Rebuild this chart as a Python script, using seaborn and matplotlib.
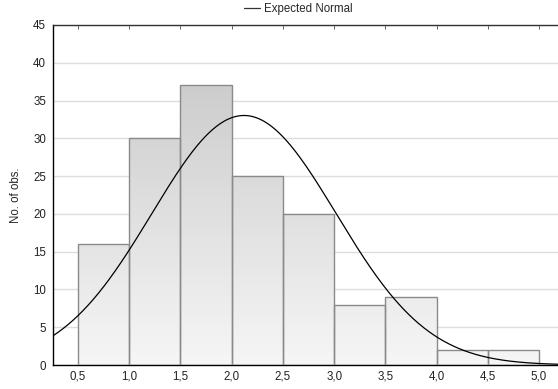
import numpy as np
import pandas as pd
import matplotlib
matplotlib.use("Agg")
import matplotlib.pyplot as plt
import seaborn as sns
from matplotlib.colors import LinearSegmentedColormap

# Data
bin_left = [0.5, 1.0, 1.5, 2.0, 2.5, 3.0, 3.5, 4.0, 4.5]
counts = [16, 30, 37, 25, 20, 8, 9, 2, 2]
bin_width = 0.5
fit_mean = 2.12
fit_sd = 0.90
x_ticks = [0.5, 1.0, 1.5, 2.0, 2.5, 3.0, 3.5, 4.0, 4.5, 5.0]
y_ticks = [0, 5, 10, 15, 20, 25, 30, 35, 40, 45]

sns.set_style("white")
plt.rcParams['font.family'] = ['Liberation Sans', 'DejaVu Sans']
FS = 8.3

fig = plt.figure(figsize=(5.58, 3.89), dpi=100)
ax = fig.add_axes([53/558, 1 - 365/389, (558 - 53)/558, (365 - 25)/389])

df = pd.DataFrame({"x": [b + bin_width / 2 for b in bin_left], "n": counts})
sns.histplot(data=df, x="x", weights="n", binwidth=bin_width, binrange=(0.5, 5.0),
             ax=ax, stat="count", fill=True, color="white", alpha=0.0,
             edgecolor="#8a8a8a", linewidth=1.0, zorder=3)

xmin, xmax = 0.256, 5.185
ax.set_xlim(xmin, xmax)
ax.set_ylim(0, 45)

cmap = LinearSegmentedColormap.from_list("g", ["#f6f6f6", "#c4c4c4"])
grad = np.linspace(0, 1, 256).reshape(-1, 1)
for p in list(ax.patches):
    p.set_alpha(None)
    p.set_facecolor("none")
    p.set_edgecolor("#8a8a8a")
    x0 = p.get_x(); w = p.get_width()
    im = ax.imshow(grad, cmap=cmap, aspect="auto", origin="lower",
                   extent=[x0, x0 + w, 0, 45], vmin=0, vmax=1, zorder=2)
    im.set_clip_path(p)

# Expected normal curve
xs = np.linspace(xmin, xmax, 400)
N = sum(counts)
ys = N * bin_width / (fit_sd * np.sqrt(2 * np.pi)) * np.exp(-0.5 * ((xs - fit_mean) / fit_sd) ** 2)
sns.lineplot(x=xs, y=ys, ax=ax, color="black", linewidth=0.9, zorder=4,
             label="Expected Normal")

ax.set_xlim(xmin, xmax)
ax.set_ylim(0, 45)
ax.set_xticks(x_ticks)
ax.set_xticklabels([f"{v:.1f}".replace(".", ",") for v in x_ticks])
ax.set_yticks(y_ticks)
ax.set_yticklabels([str(v) for v in y_ticks])
ax.tick_params(axis="both", labelsize=FS, colors="#222222", width=0.6)
ax.tick_params(axis="y", color="#999999", length=3.5, pad=1.5)
ax.tick_params(axis="x", color="#444444", length=2, direction="in", pad=4)
ax.set_xlabel("")
ax.set_ylabel("No. of obs.", fontsize=FS, labelpad=8)

ax.yaxis.grid(True, color="#dddddd", linewidth=1.0, zorder=0)
ax.set_axisbelow(True)

for s in ["left", "bottom"]:
    ax.spines[s].set_color("black")
    ax.spines[s].set_linewidth(1.0)
ax.spines["top"].set_color("#333333")
ax.spines["top"].set_linewidth(1.0)
ax.spines["right"].set_visible(False)

ax2 = ax.secondary_xaxis("top")
ax2.set_xticks(x_ticks)
ax2.tick_params(axis="x", direction="in", length=3, width=0.6, color="#444444",
                labeltop=False)
ax2.spines["top"].set_visible(False)

leg = ax.legend(loc="center", bbox_to_anchor=(0.485, 1 + 16/340), frameon=False,
                fontsize=FS, handlelength=1.4, handletextpad=0.35,
                borderaxespad=0.0, borderpad=0.0)
for line in leg.get_lines():
    line.set_color("#333333")

fig.savefig("out.png", dpi=100)
